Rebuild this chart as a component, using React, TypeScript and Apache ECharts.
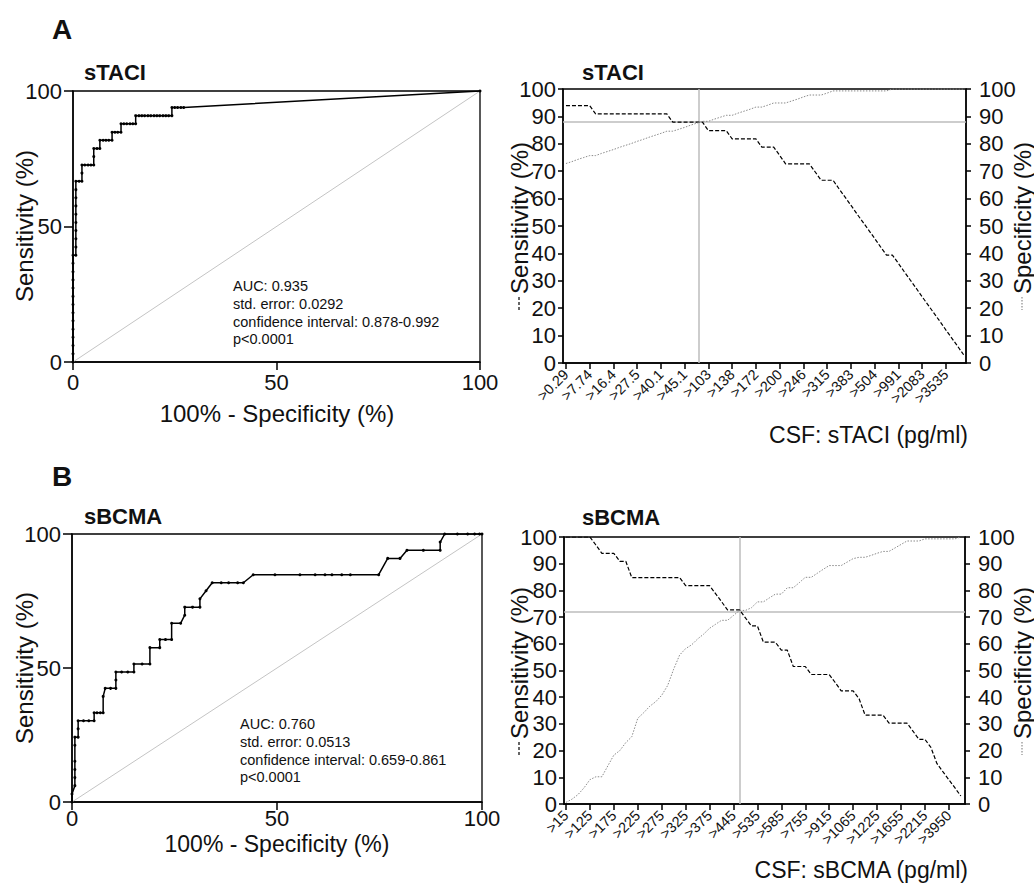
import React, { useEffect, useRef } from "react";
import * as echarts from "echarts";

const FONT = '"Liberation Sans", Arial, Helvetica, sans-serif';
const INK = "#111";

// ---- tick labels (cut-off values shown every 4th threshold) ----
const taciThresholdLabels = [">0.29", ">7.74", ">16.4", ">27.5", ">40.1", ">45.1", ">103", ">138", ">172", ">200", ">246", ">315", ">383", ">504", ">991", ">2083", ">3535"];
const bcmaThresholdLabels = [">15", ">125", ">175", ">225", ">275", ">325", ">375", ">445", ">535", ">585", ">755", ">915", ">1065", ">1225", ">1655", ">2215", ">3950"];
const thresholdsPerLabel = 4;

// ---- sTACI: sensitivity / specificity (%) at each cut-off ----
const taciSensitivity = [
  93.9, 93.9, 93.9, 93.9, 93.9,
  90.9, 90.9, 90.9, 90.9, 90.9, 90.9, 90.9, 90.9, 90.9, 90.9, 90.9, 90.9, 90.9,
  87.9, 87.9, 87.9, 87.9, 87.9, 87.9,
  84.8, 84.8, 84.8, 84.8,
  81.8, 81.8, 81.8, 81.8, 81.8,
  78.8, 78.8, 78.8,
  75.8,
  72.7, 72.7, 72.7, 72.7, 72.7,
  69.7,
  66.7, 66.7, 66.7,
  63.6, 60.6, 57.6, 54.5, 51.5, 48.5, 45.5, 42.4, 39.4,
  39.4,
  36.4, 33.3, 30.3, 27.3, 24.2, 21.2, 18.2, 15.2, 12.1, 9.1, 6.1, 3.0,
];
const taciSpecificity = [
  72.8, 73.5, 74.3, 75.0, 75.7, 75.7, 76.5, 77.2, 77.9, 78.7, 79.4, 80.1, 80.9, 81.6, 82.4, 83.1, 83.8, 84.6,
  84.6, 85.3, 86.0, 86.8, 87.5, 88.2, 88.2, 89.0, 89.7, 90.4, 90.4, 91.2, 91.9, 92.6, 93.4, 93.4, 94.1, 94.9,
  94.9, 94.9, 95.6, 96.3, 97.1, 97.8, 97.8, 97.8, 98.5, 99.3,
  99.3, 99.3, 99.3, 99.3, 99.3, 99.3, 99.3, 99.3, 99.3,
  100, 100, 100, 100, 100, 100, 100, 100, 100, 100, 100, 100, 100,
];
const taciCutoffIndex = 22.4;
const taciCutoffValue = 87.9;
const taciStats = ["AUC: 0.935", "std. error: 0.0292", "confidence interval: 0.878-0.992", "p<0.0001"];

// ---- sBCMA ----
const bcmaSensitivity = [
  100, 100, 100, 100, 100,
  97.0,
  93.9, 93.9, 93.9,
  90.9, 90.9,
  84.8, 84.8, 84.8, 84.8, 84.8, 84.8, 84.8, 84.8, 84.8,
  81.8, 81.8, 81.8, 81.8, 81.8,
  78.8, 75.8,
  72.7, 72.7, 72.7,
  69.7,
  66.7, 66.7,
  60.6, 60.6, 60.6,
  57.6, 57.6,
  51.5, 51.5, 51.5,
  48.5, 48.5, 48.5, 48.5,
  45.5,
  42.4, 42.4, 42.4,
  39.4,
  33.3, 33.3, 33.3, 33.3,
  30.3, 30.3, 30.3, 30.3,
  27.3, 24.2, 24.2, 21.2, 15.2, 12.1, 9.1, 6.1, 3.0,
];
const bcmaSpecificity = [
  0.6, 1.8, 3.5, 6.0, 9.1, 10.2, 10.2, 14.3, 18.3, 20.0, 23.0, 25.2, 32.1, 34.2, 36.6, 38.3, 40.7, 44.4, 50.5, 55.8,
  58.2, 59.6, 61.8, 63.6, 65.8, 67.3, 68.8, 68.8, 70.6, 72.5, 72.5, 73.5, 75.7, 75.7, 77.2, 78.6, 78.6, 81.0, 81.0,
  82.9, 84.9, 84.9, 86.4, 87.9, 89.3, 89.3, 89.3, 90.6, 91.9, 92.4, 92.4, 93.1, 93.9, 94.6, 94.6, 95.9, 97.2, 98.5,
  98.5, 98.5, 99.3, 99.3, 99.3, 99.3, 99.3, 99.3, 100,
];
const bcmaCutoffIndex = 29;
const bcmaCutoffValue = 72;
const bcmaStats = ["AUC: 0.760", "std. error: 0.0513", "confidence interval: 0.659-0.861", "p<0.0001"];

const rocTicks = [0, 50, 100];

function rocPoints(sens: number[], spec: number[]) {
  const pts: number[][] = [[0, 0]];
  for (let i = sens.length - 1; i >= 0; i--) {
    pts.push([+(100 - spec[i]).toFixed(2), sens[i]]);
  }
  pts.push([100, 100]);
  return pts;
}

const tickText = (size: number, margin: number) => ({ color: INK, fontSize: size, fontFamily: FONT, margin });
const blackLine = { show: true, onZero: false, lineStyle: { color: "#000", width: 1.5 } };

function rocAxes(grid: number, xMargin: number) {
  const x = {
    gridIndex: grid, type: "value", min: 0, max: 100, interval: 50,
    axisLine: blackLine, axisTick: { show: true, length: 8, lineStyle: { color: "#000", width: 1.5 } },
    axisLabel: { ...tickText(22, xMargin), customValues: rocTicks }, splitLine: { show: false },
  };
  const y = {
    gridIndex: grid, type: "value", min: 0, max: 100, interval: 50,
    axisLine: blackLine, axisTick: { show: true, length: 9, lineStyle: { color: "#000", width: 1.5 } },
    axisLabel: tickText(22, 11), splitLine: { show: false },
  };
  return { x, y };
}

function cutoffAxes(grid: number, labels: string[], min: number, max: number) {
  const positions = labels.map((_, k) => k * thresholdsPerLabel);
  const x = {
    gridIndex: grid, type: "value", min, max,
    axisLine: blackLine,
    axisTick: { show: true, length: 6, customValues: positions, lineStyle: { color: "#000", width: 1.5 } },
    axisLabel: {
      ...tickText(14.5, 9), rotate: 45, customValues: positions,
      formatter: (v: number) => labels[Math.round(v / thresholdsPerLabel)] ?? "",
    },
    splitLine: { show: false },
  };
  const yl = {
    gridIndex: grid, type: "value", min: 0, max: 100, interval: 10, position: "left",
    axisLine: blackLine, axisTick: { show: true, length: 5, lineStyle: { color: "#000", width: 1.5 } },
    axisLabel: tickText(22, 7), splitLine: { show: false },
  };
  const yr = {
    gridIndex: grid, type: "value", min: 0, max: 100, interval: 10, position: "right",
    axisLine: blackLine, axisTick: { show: true, length: 5, lineStyle: { color: "#000", width: 1.5 } },
    axisLabel: tickText(22, 13), splitLine: { show: false },
  };
  return { x, yl, yr };
}

function text(t: string, x: number, y: number, size: number, opts: any = {}) {
  return {
    type: "text", x, y, rotation: opts.rotation ?? 0, silent: true,
    style: {
      text: t, fill: INK, font: `${opts.bold ? "bold " : ""}${size}px ${FONT}`,
      textAlign: opts.align ?? "left", textVerticalAlign: "middle",
      align: opts.align ?? "left", verticalAlign: "middle",
    },
  };
}

function sample(x: number, y1: number, y2: number, color: string, dash: number[], width: number) {
  return {
    type: "line", silent: true,
    shape: { x1: x, y1, x2: x, y2 },
    style: { stroke: color, lineWidth: width, lineDash: dash },
  };
}

export default function App() {
  const ref = useRef<HTMLDivElement>(null);

  useEffect(() => {
    if (!ref.current) return;
    const chart = echarts.init(ref.current, undefined, { renderer: "svg" });

    const rocA = rocAxes(0, 9);
    const rocB = rocAxes(2, 5);
    const cutA = cutoffAxes(1, taciThresholdLabels, -0.5, 67.4);
    const cutB = cutoffAxes(3, bcmaThresholdLabels, -0.33, 66.7);

    const gridStyle = { show: true, borderColor: "#000", borderWidth: 1.3, backgroundColor: "transparent" };

    const rocSeries = (xi: number, yi: number, data: number[][]) => ({
      type: "line", xAxisIndex: xi, yAxisIndex: yi, data,
      symbol: "circle", symbolSize: 3, showSymbol: true, showAllSymbol: true,
      lineStyle: { color: "#000", width: 1.5 }, itemStyle: { color: "#000" }, z: 3,
    });
    const diagSeries = (xi: number, yi: number) => ({
      type: "line", xAxisIndex: xi, yAxisIndex: yi, data: [[0, 0], [100, 100]],
      symbol: "none", lineStyle: { color: "#c4c4c4", width: 1 }, z: 2,
    });
    const sensSeries = (xi: number, yi: number, sens: number[], cx: number, cy: number) => ({
      type: "line", xAxisIndex: xi, yAxisIndex: yi, data: sens.map((v, i) => [i, v]),
      symbol: "none", lineStyle: { color: "#000", width: 1.2, type: [4, 2] }, z: 3,
      markLine: {
        silent: true, symbol: ["none", "none"], label: { show: false },
        lineStyle: { color: "#bdbdbd", width: 1.5, type: "solid" },
        data: [{ xAxis: cx }, { yAxis: cy }], z: 1,
      },
    });
    const specSeries = (xi: number, yi: number, spec: number[]) => ({
      type: "line", xAxisIndex: xi, yAxisIndex: yi, data: spec.map((v, i) => [i, v]),
      symbol: "none", lineStyle: { color: "#8a8a8a", width: 1, type: [1.5, 1.5] }, z: 3,
    });

    const statsText = (lines: string[], x: number, y0: number) =>
      lines.map((l, k) => text(l, x, y0 + k * 17.8, 14.5));

    chart.setOption({
      animation: false,
      textStyle: { fontFamily: FONT },
      grid: [
        { left: 73, top: 91, width: 407, height: 271, ...gridStyle },
        { left: 563, top: 89, width: 403, height: 274, ...gridStyle },
        { left: 72, top: 534, width: 410, height: 268, ...gridStyle },
        { left: 564, top: 537, width: 401, height: 267, ...gridStyle },
      ],
      xAxis: [rocA.x, cutA.x, rocB.x, cutB.x],
      yAxis: [rocA.y, cutA.yl, cutA.yr, rocB.y, cutB.yl, cutB.yr],
      series: [
        diagSeries(0, 0),
        rocSeries(0, 0, rocPoints(taciSensitivity, taciSpecificity)),
        sensSeries(1, 1, taciSensitivity, taciCutoffIndex, taciCutoffValue),
        specSeries(1, 2, taciSpecificity),
        diagSeries(2, 3),
        rocSeries(2, 3, rocPoints(bcmaSensitivity, bcmaSpecificity)),
        sensSeries(3, 4, bcmaSensitivity, bcmaCutoffIndex, bcmaCutoffValue),
        specSeries(3, 5, bcmaSpecificity),
      ],
      graphic: [
        text("A", 52, 29, 28, { bold: true }),
        text("B", 52, 476, 28, { bold: true }),
        text("sTACI", 84, 72, 22, { bold: true }),
        text("sTACI", 582, 72, 22, { bold: true }),
        text("sBCMA", 84, 516, 22, { bold: true }),
        text("sBCMA", 582, 517, 22, { bold: true }),
        // ROC axis titles
        text("Sensitivity (%)", 24, 226, 24, { align: "center", rotation: Math.PI / 2 }),
        text("100% - Specificity (%)", 277, 413, 24, { align: "center" }),
        text("Sensitivity (%)", 24, 668, 24, { align: "center", rotation: Math.PI / 2 }),
        text("100% - Specificity (%)", 277, 844, 23, { align: "center" }),
        // cut-off plot titles
        text("Sensitivity (%)", 519, 218, 24, { align: "center", rotation: Math.PI / 2 }),
        sample(519, 297, 310, "#000", [3, 2], 1.2),
        text("Specificity (%)", 1022, 218, 24, { align: "center", rotation: Math.PI / 2 }),
        sample(1022, 297, 310, "#8a8a8a", [1.5, 1.5], 1.2),
        text("CSF: sTACI (pg/ml)", 968, 435, 23, { align: "right" }),
        text("Sensitivity (%)", 519, 663, 24, { align: "center", rotation: Math.PI / 2 }),
        sample(519, 742, 755, "#000", [3, 2], 1.2),
        text("Specificity (%)", 1022, 663, 24, { align: "center", rotation: Math.PI / 2 }),
        sample(1022, 742, 755, "#8a8a8a", [1.5, 1.5], 1.2),
        text("CSF: sBCMA (pg/ml)", 968, 870, 23, { align: "right" }),
        ...statsText(taciStats, 233, 286),
        ...statsText(bcmaStats, 240, 724),
      ],
    });

    return () => chart.dispose();
  }, []);

  return <div ref={ref} style={{ position: "absolute", left: 0, top: 0, width: 1034, height: 889, background: "#fff" }} />;
}
